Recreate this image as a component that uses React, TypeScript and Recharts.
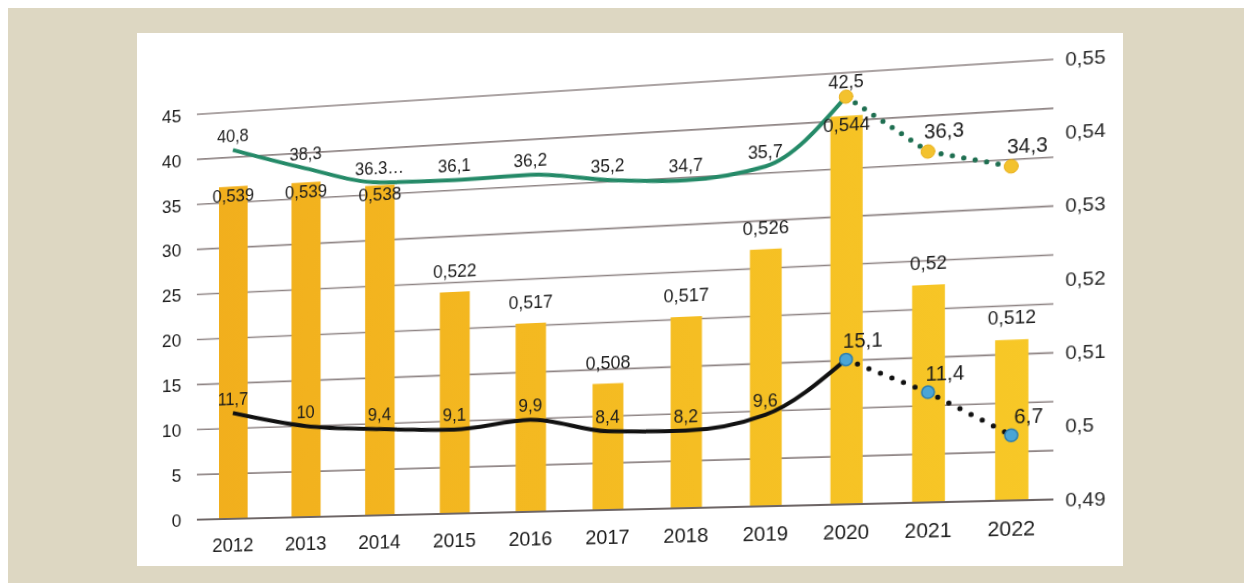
import { ComposedChart, Bar, Line, XAxis, YAxis, CartesianGrid, LabelList } from "recharts";

const years = ["2012", "2013", "2014", "2015", "2016", "2017", "2018", "2019", "2020", "2021", "2022"];
// bars, right axis
const indexValues = [0.539, 0.539, 0.538, 0.522, 0.517, 0.508, 0.517, 0.526, 0.544, 0.52, 0.512];
// green line, left axis
const greenValues = [40.8, 38.3, 36.3, 36.1, 36.2, 35.2, 34.7, 35.7, 42.5, 36.3, 34.3];
const greenLabels = ["40,8", "38,3", "36.3…", "36,1", "36,2", "35,2", "34,7", "35,7", "42,5", "36,3", "34,3"];
// black line, left axis
const blackValues = [11.7, 10, 9.4, 9.1, 9.9, 8.4, 8.2, 9.6, 15.1, 11.4, 6.7];
const blackLabels = ["11,7", "10", "9,4", "9,1", "9,9", "8,4", "8,2", "9,6", "15,1", "11,4", "6,7"];
const leftTicks = [0, 5, 10, 15, 20, 25, 30, 35, 40, 45];
const rightTicks = [0.49, 0.5, 0.51, 0.52, 0.53, 0.54, 0.55];
const lastActual = 8; // 2020, dotted after

const comma = (v: number) => String(v).replace(".", ",");

const rows = years.map((year, i) => ({
  year,
  idx: indexValues[i],
  green: i <= lastActual ? greenValues[i] : null,
  greenF: i >= lastActual ? greenValues[i] : null,
  greenText: i <= lastActual ? greenLabels[i] : undefined,
  greenFText: i > lastActual ? greenLabels[i] : undefined,
  black: i <= lastActual ? blackValues[i] : null,
  blackF: i >= lastActual ? blackValues[i] : null,
  blackText: i < lastActual ? blackLabels[i] : undefined,
  blackFText: i >= lastActual ? blackLabels[i] : undefined,
}));

const FONT = "'Liberation Sans', Arial, sans-serif";
const INK = "#1c1c1c";

const BarValue = (p: any) => {
  if (p.value == null) return null;
  const inside = p.value >= 0.538;
  return (
    <text x={p.x + p.width / 2} y={p.y + (inside ? 9 : -21)} textAnchor="middle" dominantBaseline="central"
      fontSize={18} fontFamily={FONT} fill={INK}>
      {comma(p.value)}
    </text>
  );
};

const pointLabel = (dx: number, dy: number, size: number) => (p: any) => {
  if (p.value == null || p.y == null) return null;
  return (
    <text x={p.x + dx} y={p.y + dy} textAnchor="middle" dominantBaseline="central"
      fontSize={size} fontFamily={FONT} fill={INK}>
      {p.value}
    </text>
  );
};

const App = () => {
  return (
    <div style={{ position: "fixed", top: 8, left: 8, right: 0, bottom: 0, background: "#ddd7c2", fontFamily: FONT }}>
      <div style={{ position: "absolute", left: 129, top: 25, width: 986, height: 533, background: "#fff", overflow: "hidden" }}>
        {/* scanned page: slight skew and keystone */}
        <div style={{
          position: "absolute", left: 0, top: 0, width: 986, height: 533,
          transformOrigin: "470.5px 266px",
          transform: "perspective(1000px) rotateY(-5.5deg) skewY(-2.5deg)",
        }}>
          <ComposedChart width={986} height={533} data={rows} margin={{ top: 55, right: 0, bottom: 0, left: 0 }}>
            <defs>
              <linearGradient id="barFill" gradientUnits="userSpaceOnUse" x1="0" y1="0" x2="986" y2="0">
                <stop offset="0%" stopColor="#f1ad1c" />
                <stop offset="100%" stopColor="#f8cb28" />
              </linearGradient>
            </defs>
            <CartesianGrid yAxisId="left" vertical={false} stroke="#8f8585" strokeWidth={1.6} />
            <XAxis dataKey="year" height={56} interval={0} axisLine={{ stroke: "#6e6666", strokeWidth: 2 }}
              tickLine={false} tickSize={0} tickMargin={20}
              tick={{ fontSize: 20, fill: INK, fontFamily: FONT }} />
            <YAxis yAxisId="left" width={41} domain={[0, 45]} ticks={leftTicks} axisLine={false} tickLine={false}
              tickSize={0} tickMargin={17} tick={{ fontSize: 19, fill: INK, fontFamily: FONT }} />
            <YAxis yAxisId="right" orientation="right" width={86} domain={[0.49, 0.55]} ticks={rightTicks}
              axisLine={false} tickLine={false} tickSize={0} tickMargin={11} tickFormatter={comma}
              tick={{ fontSize: 19, fill: "#2a2a2a", fontFamily: FONT }} />
            <Bar yAxisId="right" dataKey="idx" barSize={31} fill="url(#barFill)" isAnimationActive={false}>
              <LabelList dataKey="idx" content={BarValue} />
            </Bar>
            <Line yAxisId="left" type="monotone" dataKey="green" stroke="#258a68" strokeWidth={4} dot={false}
              isAnimationActive={false}>
              <LabelList dataKey="greenText" content={pointLabel(0, -14, 17.5)} />
            </Line>
            <Line yAxisId="left" type="linear" dataKey="greenF" stroke="#1e6e50" strokeWidth={5} strokeDasharray="0 11"
              strokeLinecap="round" dot={{ r: 6.5, fill: "#f3c22e", stroke: "#e9b01c", strokeWidth: 1, strokeDasharray: "" }}
              isAnimationActive={false}>
              <LabelList dataKey="greenFText" content={pointLabel(15, -19, 19.5)} />
            </Line>
            <Line yAxisId="left" type="monotone" dataKey="black" stroke="#111" strokeWidth={4} dot={false}
              isAnimationActive={false}>
              <LabelList dataKey="blackText" content={pointLabel(0, -14, 17.5)} />
            </Line>
            <Line yAxisId="left" type="linear" dataKey="blackF" stroke="#111" strokeWidth={5} strokeDasharray="0 12"
              strokeLinecap="round" dot={{ r: 6, fill: "#4aa5d6", stroke: "#2f7fae", strokeWidth: 1.5, strokeDasharray: "" }}
              isAnimationActive={false}>
              <LabelList dataKey="blackFText" content={pointLabel(16, -18, 19.5)} />
            </Line>
          </ComposedChart>
        </div>
      </div>
    </div>
  );
};

export default App;
